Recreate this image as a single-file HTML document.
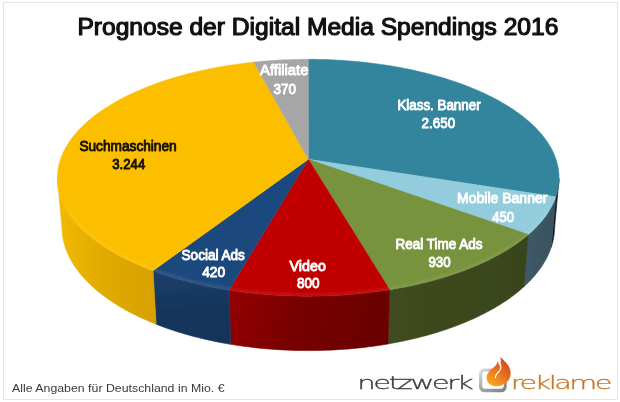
<!DOCTYPE html>
<html lang="de"><head><meta charset="utf-8"><title>Prognose der Digital Media Spendings 2016</title>
<style>
html,body{margin:0;padding:0;background:#fff;}
body{width:620px;height:402px;overflow:hidden;font-family:"Liberation Sans",Arial,sans-serif;}
svg{display:block;}
</style></head><body>
<svg width="620" height="402" viewBox="0 0 620 402" font-family="Liberation Sans, Arial, sans-serif">
<defs>
<linearGradient id="s0" gradientUnits="userSpaceOnUse" x1="540" y1="0" x2="558" y2="0"><stop offset="0" stop-color="#0c2128"/><stop offset="1" stop-color="#08171c"/></linearGradient>
<linearGradient id="s1" gradientUnits="userSpaceOnUse" x1="524" y1="0" x2="556" y2="0"><stop offset="0" stop-color="#405a68"/><stop offset="1" stop-color="#39515d"/></linearGradient>
<linearGradient id="s2" gradientUnits="userSpaceOnUse" x1="388" y1="0" x2="528" y2="0"><stop offset="0" stop-color="#404c20"/><stop offset="1" stop-color="#39441c"/></linearGradient>
<linearGradient id="s3" gradientUnits="userSpaceOnUse" x1="228" y1="290" x2="390" y2="335"><stop offset="0" stop-color="#960000"/><stop offset="0.4" stop-color="#7a0000"/><stop offset="1" stop-color="#670000"/></linearGradient>
<linearGradient id="s4" gradientUnits="userSpaceOnUse" x1="190" y1="275" x2="195" y2="340"><stop offset="0" stop-color="#1b3d69"/><stop offset="0.5" stop-color="#17365d"/><stop offset="1" stop-color="#16335a"/></linearGradient>
<linearGradient id="s5" gradientUnits="userSpaceOnUse" x1="58" y1="0" x2="156" y2="0"><stop offset="0" stop-color="#f3ba00"/><stop offset="0.45" stop-color="#e1aa00"/><stop offset="1" stop-color="#d7a100"/></linearGradient>
<linearGradient id="gbox" x1="0" y1="0" x2="1" y2="1"><stop offset="0" stop-color="#e4e4e4"/><stop offset="0.45" stop-color="#a8a8a8"/><stop offset="1" stop-color="#7e7e7e"/></linearGradient>
<linearGradient id="gflame" x1="0.75" y1="0.1" x2="0.2" y2="0.95"><stop offset="0" stop-color="#d24a1c"/><stop offset="0.5" stop-color="#ea7420"/><stop offset="1" stop-color="#f8a81e"/></linearGradient>
<filter id="blur4" x="-10%" y="-50%" width="120%" height="200%"><feGaussianBlur stdDeviation="4"/></filter><filter id="blur1" x="-5%" y="-20%" width="110%" height="140%"><feGaussianBlur stdDeviation="0.8"/></filter>
<filter id="soft" x="-2%" y="-2%" width="104%" height="104%"><feGaussianBlur stdDeviation="0.55"/></filter>
</defs>
<rect x="0" y="0" width="620" height="402" fill="#fff"/>
<rect x="3.5" y="2.5" width="614" height="397" fill="none" stroke="#e6e6e6" stroke-width="1"/>
<text x="77.4" y="35" textLength="481" lengthAdjust="spacingAndGlyphs" font-size="23" font-weight="normal" fill="#111" stroke="#111" stroke-width="1.15" stroke-linejoin="round">Prognose der Digital Media Spendings 2016</text>
<g filter="url(#soft)">
<path d="M559.05 178.59 L558.96 180.85 L558.79 183.11 L558.53 185.38 L558.17 187.65 L557.71 189.93 L557.17 192.21 L556.52 194.48 L555.79 196.76 L551.24 247.23 L551.98 244.86 L552.62 242.48 L553.17 240.11 L553.63 237.73 L553.99 235.36 L554.26 232.99 L554.45 230.63 L554.54 228.27 Z" fill="url(#s0)" stroke="url(#s0)" stroke-width="0.6"/>
<path d="M555.79 196.76 L555.00 198.91 L554.13 201.05 L553.18 203.19 L552.14 205.33 L551.01 207.46 L549.79 209.59 L548.49 211.72 L547.10 213.83 L545.63 215.94 L544.06 218.04 L542.41 220.14 L540.67 222.22 L538.84 224.29 L536.93 226.35 L534.92 228.40 L532.83 230.43 L530.66 232.45 L528.39 234.45 L524.16 286.49 L526.39 284.41 L528.54 282.31 L530.60 280.19 L532.57 278.06 L534.46 275.91 L536.27 273.76 L537.99 271.59 L539.62 269.41 L541.16 267.22 L542.62 265.02 L544.00 262.82 L545.29 260.60 L546.49 258.38 L547.61 256.16 L548.64 253.93 L549.59 251.70 L550.46 249.47 L551.24 247.23 Z" fill="url(#s1)" stroke="url(#s1)" stroke-width="0.6"/>
<path d="M528.39 234.45 L526.03 236.45 L523.58 238.43 L521.04 240.40 L518.42 242.34 L515.71 244.26 L512.91 246.17 L510.03 248.05 L507.07 249.90 L504.02 251.74 L500.89 253.55 L497.68 255.33 L494.39 257.08 L491.02 258.81 L487.57 260.51 L484.04 262.18 L480.44 263.82 L476.76 265.43 L473.00 267.00 L469.18 268.55 L465.28 270.06 L461.31 271.53 L457.27 272.97 L453.17 274.37 L449.00 275.73 L444.76 277.06 L440.47 278.35 L436.11 279.60 L431.70 280.80 L427.22 281.97 L422.69 283.09 L418.11 284.17 L413.48 285.21 L408.80 286.21 L404.07 287.16 L399.30 288.06 L394.48 288.92 L389.62 289.73 L387.96 343.96 L392.72 343.11 L397.44 342.22 L402.12 341.28 L406.75 340.30 L411.34 339.26 L415.88 338.19 L420.37 337.06 L424.81 335.89 L429.20 334.68 L433.53 333.43 L437.80 332.13 L442.01 330.80 L446.17 329.42 L450.26 328.00 L454.28 326.55 L458.24 325.05 L462.14 323.52 L465.96 321.95 L469.72 320.35 L473.40 318.71 L477.02 317.04 L480.56 315.33 L484.02 313.60 L487.41 311.83 L490.72 310.04 L493.96 308.21 L497.11 306.36 L500.19 304.48 L503.18 302.57 L506.09 300.64 L508.93 298.68 L511.68 296.70 L514.34 294.70 L516.92 292.68 L519.42 290.64 L521.84 288.57 L524.16 286.49 Z" fill="url(#s2)" stroke="url(#s2)" stroke-width="0.6"/>
<path d="M389.62 289.73 L384.80 290.49 L379.93 291.20 L375.04 291.86 L370.12 292.48 L365.16 293.05 L360.18 293.57 L355.18 294.05 L350.15 294.48 L345.11 294.85 L340.04 295.19 L334.97 295.47 L329.87 295.70 L324.77 295.88 L319.67 296.02 L314.55 296.10 L309.43 296.14 L304.32 296.13 L299.20 296.06 L294.09 295.95 L288.99 295.79 L283.89 295.58 L278.81 295.32 L273.74 295.01 L268.68 294.66 L263.65 294.25 L258.63 293.80 L253.64 293.30 L248.67 292.75 L243.74 292.15 L238.83 291.51 L233.95 290.82 L229.11 290.09 L230.73 344.33 L235.47 345.09 L240.25 345.80 L245.06 346.47 L249.90 347.09 L254.76 347.66 L259.65 348.18 L264.56 348.65 L269.49 349.07 L274.45 349.44 L279.41 349.76 L284.39 350.03 L289.38 350.24 L294.38 350.41 L299.39 350.53 L304.40 350.59 L309.41 350.61 L314.42 350.57 L319.43 350.48 L324.43 350.34 L329.43 350.15 L334.42 349.91 L339.39 349.62 L344.35 349.27 L349.29 348.88 L354.22 348.44 L359.12 347.94 L364.00 347.40 L368.85 346.81 L373.67 346.17 L378.47 345.48 L383.23 344.74 L387.96 343.96 Z" fill="url(#s3)" stroke="url(#s3)" stroke-width="0.6"/>
<path d="M229.11 290.09 L224.23 289.30 L219.40 288.46 L214.60 287.57 L209.85 286.64 L205.15 285.67 L200.49 284.65 L195.88 283.59 L191.33 282.48 L186.83 281.33 L182.39 280.14 L178.00 278.91 L173.68 277.65 L169.42 276.34 L165.22 274.99 L161.08 273.60 L157.01 272.18 L153.01 270.72 L156.12 324.21 L160.05 325.73 L164.04 327.21 L168.09 328.64 L172.21 330.04 L176.39 331.40 L180.63 332.72 L184.93 334.00 L189.29 335.24 L193.70 336.43 L198.16 337.57 L202.68 338.68 L207.24 339.74 L211.85 340.75 L216.51 341.71 L221.21 342.63 L225.95 343.50 L230.73 344.33 Z" fill="url(#s4)" stroke="url(#s4)" stroke-width="0.6"/>
<path d="M153.01 270.72 L149.10 269.24 L145.26 267.71 L141.48 266.16 L137.79 264.57 L134.16 262.96 L130.61 261.31 L127.14 259.63 L123.74 257.92 L120.43 256.19 L117.19 254.42 L114.04 252.64 L110.96 250.82 L107.97 248.98 L105.06 247.12 L102.23 245.24 L99.49 243.34 L96.83 241.41 L94.26 239.47 L91.77 237.50 L89.37 235.52 L87.06 233.52 L84.83 231.51 L82.70 229.48 L80.64 227.44 L78.68 225.38 L76.80 223.31 L75.01 221.23 L73.31 219.14 L71.70 217.05 L70.18 214.94 L68.74 212.82 L67.39 210.70 L66.13 208.57 L64.95 206.44 L63.87 204.30 L62.87 202.16 L61.95 200.01 L61.12 197.87 L60.38 195.72 L59.72 193.57 L59.15 191.42 L58.66 189.28 L58.26 187.13 L57.94 184.99 L57.70 182.85 L57.54 180.72 L57.47 178.59 L61.98 228.27 L62.06 230.50 L62.23 232.72 L62.47 234.95 L62.80 237.19 L63.21 239.43 L63.70 241.66 L64.27 243.90 L64.93 246.14 L65.67 248.38 L66.49 250.62 L67.40 252.86 L68.40 255.09 L69.48 257.32 L70.64 259.54 L71.89 261.76 L73.23 263.97 L74.65 266.17 L76.15 268.37 L77.75 270.56 L79.43 272.73 L81.19 274.90 L83.04 277.05 L84.98 279.19 L87.00 281.32 L89.11 283.43 L91.31 285.53 L93.58 287.61 L95.95 289.67 L98.39 291.71 L100.93 293.73 L103.54 295.74 L106.24 297.72 L109.02 299.68 L111.88 301.61 L114.82 303.52 L117.84 305.41 L120.95 307.27 L124.13 309.10 L127.38 310.91 L130.72 312.68 L134.13 314.43 L137.62 316.14 L141.17 317.82 L144.81 319.47 L148.51 321.09 L152.28 322.67 L156.12 324.21 Z" fill="url(#s5)" stroke="url(#s5)" stroke-width="0.6"/>

<path d="M308.40 159.30 L308.26 59.28 L312.05 59.29 L315.83 59.34 L319.62 59.40 L323.40 59.50 L327.19 59.62 L330.96 59.77 L334.74 59.94 L338.50 60.15 L342.27 60.37 L346.02 60.63 L349.77 60.91 L353.51 61.23 L357.24 61.56 L360.97 61.93 L364.68 62.32 L368.38 62.73 L372.07 63.18 L375.75 63.65 L379.42 64.15 L383.07 64.67 L386.71 65.22 L390.33 65.80 L393.94 66.41 L397.53 67.04 L401.10 67.69 L404.65 68.38 L408.19 69.09 L411.70 69.82 L415.20 70.59 L418.67 71.38 L422.12 72.19 L425.55 73.03 L428.95 73.90 L432.33 74.79 L435.69 75.71 L439.02 76.65 L442.32 77.62 L445.59 78.62 L448.84 79.64 L452.06 80.68 L455.24 81.75 L458.40 82.85 L461.53 83.97 L464.62 85.12 L467.68 86.29 L470.70 87.48 L473.69 88.70 L476.64 89.94 L479.56 91.21 L482.44 92.50 L485.28 93.82 L488.08 95.16 L490.84 96.52 L493.56 97.91 L496.24 99.31 L498.87 100.75 L501.46 102.20 L504.01 103.68 L506.51 105.18 L508.96 106.70 L511.37 108.24 L513.73 109.80 L516.04 111.39 L518.30 113.00 L520.51 114.63 L522.67 116.27 L524.77 117.94 L526.82 119.63 L528.82 121.34 L530.76 123.07 L532.64 124.81 L534.47 126.58 L536.24 128.36 L537.95 130.16 L539.60 131.98 L541.19 133.82 L542.72 135.67 L544.19 137.54 L545.59 139.43 L546.93 141.33 L548.20 143.25 L549.40 145.18 L550.54 147.12 L551.62 149.08 L552.62 151.06 L553.55 153.04 L554.42 155.04 L555.21 157.05 L555.93 159.07 L556.58 161.11 L557.15 163.15 L557.65 165.20 L558.08 167.27 L558.43 169.34 L558.70 171.42 L558.89 173.50 L559.01 175.60 L559.05 177.70 L559.01 179.80 L558.89 181.91 L558.70 184.03 L558.42 186.14 L558.05 188.27 L557.61 190.39 L557.09 192.51 L556.48 194.64 L555.79 196.76 Z" fill="#31859c" stroke="#31859c" stroke-width="0.5"/>
<path d="M308.40 159.30 L555.79 196.76 L555.00 198.91 L554.13 201.05 L553.18 203.19 L552.14 205.33 L551.01 207.46 L549.79 209.59 L548.49 211.72 L547.10 213.83 L545.63 215.94 L544.06 218.04 L542.41 220.14 L540.67 222.22 L538.84 224.29 L536.93 226.35 L534.92 228.40 L532.83 230.43 L530.66 232.45 L528.39 234.45 Z" fill="#93cddd" stroke="#93cddd" stroke-width="0.5"/>
<path d="M308.40 159.30 L528.39 234.45 L526.03 236.45 L523.58 238.43 L521.04 240.40 L518.42 242.34 L515.71 244.26 L512.91 246.17 L510.03 248.05 L507.07 249.90 L504.02 251.74 L500.89 253.55 L497.68 255.33 L494.39 257.08 L491.02 258.81 L487.57 260.51 L484.04 262.18 L480.44 263.82 L476.76 265.43 L473.00 267.00 L469.18 268.55 L465.28 270.06 L461.31 271.53 L457.27 272.97 L453.17 274.37 L449.00 275.73 L444.76 277.06 L440.47 278.35 L436.11 279.60 L431.70 280.80 L427.22 281.97 L422.69 283.09 L418.11 284.17 L413.48 285.21 L408.80 286.21 L404.07 287.16 L399.30 288.06 L394.48 288.92 L389.62 289.73 Z" fill="#77933c" stroke="#77933c" stroke-width="0.5"/>
<path d="M308.40 159.30 L389.62 289.73 L384.80 290.49 L379.93 291.20 L375.04 291.86 L370.12 292.48 L365.16 293.05 L360.18 293.57 L355.18 294.05 L350.15 294.48 L345.11 294.85 L340.04 295.19 L334.97 295.47 L329.87 295.70 L324.77 295.88 L319.67 296.02 L314.55 296.10 L309.43 296.14 L304.32 296.13 L299.20 296.06 L294.09 295.95 L288.99 295.79 L283.89 295.58 L278.81 295.32 L273.74 295.01 L268.68 294.66 L263.65 294.25 L258.63 293.80 L253.64 293.30 L248.67 292.75 L243.74 292.15 L238.83 291.51 L233.95 290.82 L229.11 290.09 Z" fill="#c00000" stroke="#c00000" stroke-width="0.5"/>
<path d="M308.40 159.30 L229.11 290.09 L224.23 289.30 L219.40 288.46 L214.60 287.57 L209.85 286.64 L205.15 285.67 L200.49 284.65 L195.88 283.59 L191.33 282.48 L186.83 281.33 L182.39 280.14 L178.00 278.91 L173.68 277.65 L169.42 276.34 L165.22 274.99 L161.08 273.60 L157.01 272.18 L153.01 270.72 Z" fill="#1f497d" stroke="#1f497d" stroke-width="0.5"/>
<path d="M308.40 159.30 L153.01 270.72 L149.16 269.26 L145.37 267.76 L141.65 266.23 L138.00 264.67 L134.43 263.08 L130.92 261.45 L127.50 259.80 L124.14 258.13 L120.87 256.42 L117.67 254.69 L114.54 252.93 L111.50 251.15 L108.54 249.34 L105.65 247.51 L102.85 245.66 L100.13 243.79 L97.49 241.90 L94.94 239.99 L92.46 238.06 L90.08 236.11 L87.77 234.15 L85.55 232.17 L83.41 230.17 L81.36 228.16 L79.40 226.14 L77.51 224.11 L75.72 222.07 L74.01 220.01 L72.38 217.95 L70.84 215.87 L69.39 213.79 L68.02 211.71 L66.73 209.61 L65.53 207.51 L64.42 205.41 L63.39 203.30 L62.44 201.19 L61.58 199.07 L60.80 196.96 L60.10 194.84 L59.49 192.73 L58.96 190.61 L58.51 188.50 L58.14 186.38 L57.85 184.28 L57.64 182.17 L57.51 180.07 L57.46 177.97 L57.49 175.88 L57.60 173.79 L57.79 171.72 L58.05 169.64 L58.38 167.58 L58.79 165.53 L59.28 163.48 L59.84 161.44 L60.47 159.42 L61.18 157.40 L61.96 155.40 L62.80 153.41 L63.72 151.43 L64.70 149.46 L65.76 147.50 L66.88 145.56 L68.07 143.64 L69.32 141.73 L70.64 139.83 L72.02 137.95 L73.47 136.08 L74.97 134.23 L76.54 132.40 L78.17 130.59 L79.86 128.79 L81.61 127.01 L83.42 125.25 L85.28 123.50 L87.20 121.78 L89.17 120.07 L91.20 118.39 L93.28 116.72 L95.41 115.07 L97.60 113.45 L99.84 111.84 L102.12 110.26 L104.46 108.69 L106.84 107.15 L109.27 105.63 L111.75 104.13 L114.27 102.65 L116.83 101.20 L119.44 99.76 L122.10 98.35 L124.79 96.97 L127.53 95.60 L130.30 94.26 L133.12 92.94 L135.97 91.65 L138.86 90.38 L141.79 89.13 L144.75 87.91 L147.75 86.71 L150.79 85.54 L153.85 84.39 L156.95 83.26 L160.08 82.16 L163.24 81.09 L166.44 80.04 L169.66 79.01 L172.91 78.01 L176.18 77.03 L179.49 76.08 L182.82 75.16 L186.17 74.26 L189.55 73.39 L192.96 72.54 L196.38 71.72 L199.83 70.92 L203.30 70.15 L206.79 69.41 L210.31 68.69 L213.84 68.00 L217.38 67.33 L220.95 66.69 L224.53 66.08 L228.13 65.49 L231.75 64.93 L235.38 64.39 L239.02 63.88 L242.68 63.40 L246.35 62.95 L250.03 62.52 L253.72 62.12 Z" fill="#fcbf00" stroke="#fcbf00" stroke-width="0.5"/>
<path d="M308.40 159.30 L253.72 62.12 L257.57 61.73 L261.43 61.36 L265.30 61.03 L269.18 60.73 L273.06 60.45 L276.95 60.21 L280.85 59.99 L284.76 59.80 L288.67 59.64 L292.58 59.51 L296.50 59.41 L300.42 59.34 L304.34 59.30 L308.26 59.28 Z" fill="#a6a6a6" stroke="#a6a6a6" stroke-width="0.5"/>
<path d="M548.14 212.27 L546.75 214.35 L545.27 216.43 L543.71 218.50 L542.06 220.56 L540.33 222.60 L538.52 224.64 L536.62 226.67 L534.63 228.68 L532.56 230.69 L530.41 232.67 L528.17 234.65 L525.85 236.60 L523.44 238.54 L520.95 240.46 L518.38 242.37 L515.72 244.25 L512.99 246.11 L510.17 247.96 L507.27 249.78 L504.29 251.58 L501.24 253.35 L498.10 255.10 L494.89 256.82 L491.60 258.52 L488.23 260.19 L484.79 261.83 L481.28 263.44 L477.69 265.03 L474.03 266.58 L470.30 268.10 L466.50 269.59 L462.64 271.04 L458.71 272.46 L454.71 273.85 L450.65 275.20 L446.53 276.52 L442.35 277.79 L438.10 279.03 L433.80 280.23 L429.45 281.39 L425.04 282.52 L420.58 283.60 L416.07 284.64 L411.51 285.64 L406.91 286.59 L402.26 287.51 L397.56 288.38 L392.83 289.20 L388.06 289.99 L383.25 290.72 L378.41 291.41 L373.53 292.06 L368.63 292.66 L363.70 293.21 L358.74 293.72 L353.76 294.17 L348.75 294.59 L343.73 294.95 L338.70 295.26 L333.65 295.53 L328.58 295.75 L323.51 295.92 L318.43 296.04 L313.35 296.12 L308.26 296.14 L303.17 296.12 L298.09 296.04 L293.01 295.92 L287.93 295.75 L282.87 295.53 L277.82 295.26 L272.78 294.95 L267.76 294.59 L262.76 294.17 L257.78 293.72 L252.82 293.21 L247.89 292.66 L242.98 292.06 L238.11 291.41 L233.27 290.72 L228.46 289.99 L223.69 289.20 L218.95 288.38 L214.26 287.51 L209.61 286.59 L205.01 285.64 L200.45 284.64 L195.94 283.60 L191.48 282.52 L187.07 281.39 L182.71 280.23 L178.41 279.03 L174.17 277.79 L169.99 276.52 L165.87 275.20 L161.81 273.85 L157.81 272.46 L153.88 271.04 L150.01 269.59 L146.21 268.10 L142.49 266.58 L138.83 265.03 L135.24 263.44 L131.73 261.83 L128.29 260.19 L124.92 258.52 L121.63 256.82 L118.42 255.10 L115.28 253.35 L112.22 251.58 L109.25 249.78 L106.35 247.96 L103.53 246.11 L100.79 244.25 L98.14 242.37 L95.57 240.46 L93.08 238.54 L90.67 236.60 L88.35 234.65 L86.11 232.67 L83.95 230.69 L81.88 228.68 L79.90 226.67 L78.00 224.64 L76.18 222.60 L74.45 220.56 L72.81 218.50 L71.25 216.43 L69.77 214.35 L68.38 212.27 " fill="none" stroke="#fff" stroke-opacity="0.10" stroke-width="2.2" transform="translate(0,-1.4)" filter="url(#blur1)"/>
</g>
<g>
<text x="397.4" y="109.9" textLength="83.2" lengthAdjust="spacingAndGlyphs" font-size="14.8" font-weight="normal" fill="#fff" stroke="#fff" stroke-width="0.95" stroke-linejoin="round">Klass. Banner</text>
<text x="421.6" y="127.9" textLength="33.5" lengthAdjust="spacingAndGlyphs" font-size="14.8" font-weight="normal" fill="#fff" stroke="#fff" stroke-width="0.95" stroke-linejoin="round">2.650</text>
<text x="79.4" y="150.9" textLength="97.3" lengthAdjust="spacingAndGlyphs" font-size="14.8" font-weight="normal" fill="#1a1200" stroke="#1a1200" stroke-width="0.95" stroke-linejoin="round">Suchmaschinen</text>
<text x="112.3" y="168.7" textLength="32.9" lengthAdjust="spacingAndGlyphs" font-size="14.8" font-weight="normal" fill="#1a1200" stroke="#1a1200" stroke-width="0.95" stroke-linejoin="round">3.244</text>
<text x="260.1" y="75.3" textLength="48.3" lengthAdjust="spacingAndGlyphs" font-size="14.8" font-weight="normal" fill="#fff" stroke="#fff" stroke-width="0.95" stroke-linejoin="round">Affiliate</text>
<text x="273.4" y="93.9" textLength="22.5" lengthAdjust="spacingAndGlyphs" font-size="14.8" font-weight="normal" fill="#fff" stroke="#fff" stroke-width="0.95" stroke-linejoin="round">370</text>
<text x="457.0" y="203.2" textLength="90.4" lengthAdjust="spacingAndGlyphs" font-size="14.8" font-weight="normal" fill="#fff" stroke="#fff" stroke-width="0.95" stroke-linejoin="round">Mobile Banner</text>
<text x="492.3" y="221.6" textLength="21.8" lengthAdjust="spacingAndGlyphs" font-size="14.8" font-weight="normal" fill="#fff" stroke="#fff" stroke-width="0.95" stroke-linejoin="round">450</text>
<text x="395.5" y="248.8" textLength="87.1" lengthAdjust="spacingAndGlyphs" font-size="14.8" font-weight="normal" fill="#fff" stroke="#fff" stroke-width="0.95" stroke-linejoin="round">Real Time Ads</text>
<text x="428.4" y="266.8" textLength="22.2" lengthAdjust="spacingAndGlyphs" font-size="14.8" font-weight="normal" fill="#fff" stroke="#fff" stroke-width="0.95" stroke-linejoin="round">930</text>
<text x="181.6" y="259.8" textLength="63.2" lengthAdjust="spacingAndGlyphs" font-size="14.8" font-weight="normal" fill="#fff" stroke="#fff" stroke-width="0.95" stroke-linejoin="round">Social Ads</text>
<text x="202.2" y="277.4" textLength="23.0" lengthAdjust="spacingAndGlyphs" font-size="14.8" font-weight="normal" fill="#fff" stroke="#fff" stroke-width="0.95" stroke-linejoin="round">420</text>
<text x="289.6" y="270.5" textLength="36.3" lengthAdjust="spacingAndGlyphs" font-size="14.8" font-weight="normal" fill="#fff" stroke="#fff" stroke-width="0.95" stroke-linejoin="round">Video</text>
<text x="296.9" y="288.3" textLength="22.5" lengthAdjust="spacingAndGlyphs" font-size="14.8" font-weight="normal" fill="#fff" stroke="#fff" stroke-width="0.95" stroke-linejoin="round">800</text>
</g>
<text x="12" y="392.3" textLength="212.5" lengthAdjust="spacingAndGlyphs" font-size="11.7" fill="#3a3a3a">Alle Angaben für Deutschland in Mio. €</text>
<g id="logo">
<text transform="translate(357.3 388.8) scale(1.6 1)" letter-spacing="-1.55" font-family="DejaVu Sans, Liberation Sans, sans-serif" font-weight="200" font-size="18.2" fill="#3c3c3c" stroke="#3c3c3c" stroke-width="0.3">netzwerk</text>
<text transform="translate(510.8 388.5) scale(1.58 1)" letter-spacing="-1.6" font-family="DejaVu Sans, Liberation Sans, sans-serif" font-weight="200" font-size="18.2" fill="#c7782a" stroke="#c7782a" stroke-width="0.3">reklame</text>
<rect x="479" y="368.5" width="27.7" height="23.8" rx="5.5" ry="5.5" fill="url(#gbox)"/>
<rect x="482.2" y="371.4" width="21.6" height="17.3" rx="3" ry="3" fill="#fff"/>
<path d="M500.3 356.9 C503 359.5 505.5 361.5 507.5 364.5 C510.5 368.5 511.5 373 510 377.5 C508.5 382 503 386 496 386.2 C491 386.3 487 383 486.6 378.5 C486.3 374 489.5 370.5 493.5 367.5 C496 365.5 497.5 364 497.2 361.5 C499 363 499.3 365 498.8 366.5 C500.5 364 501.5 360.5 500.3 356.9 Z" fill="url(#gflame)"/>
<path d="M499.6 362.5 C501.6 366 501 369.5 498.5 372 C496.5 374 495.2 375.5 495.5 377.8" fill="none" stroke="#fff" stroke-width="1.1" stroke-linecap="round"/>
</g>
</svg>
</body></html>
